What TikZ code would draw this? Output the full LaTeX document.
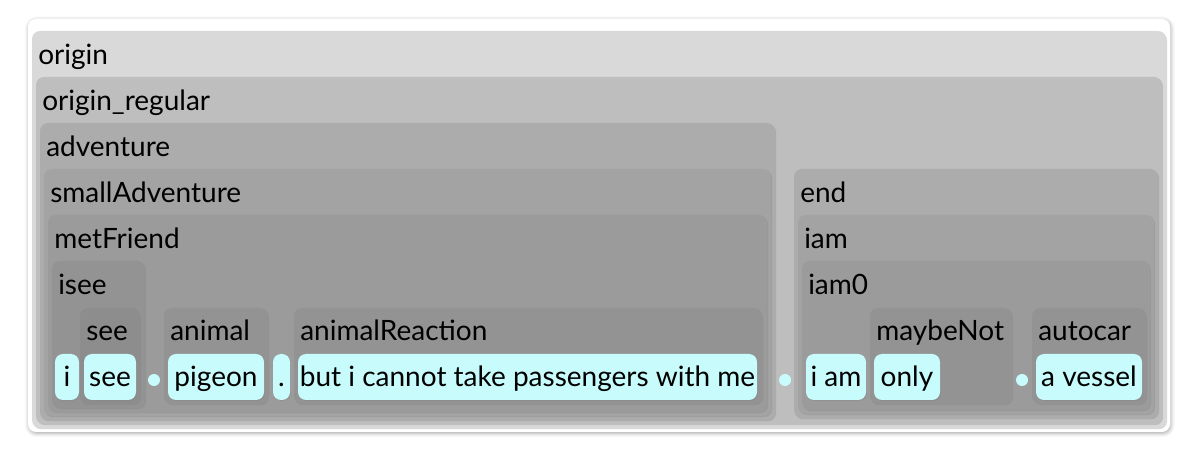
\documentclass[tikz,border=0pt]{standalone}
\usepackage{fontspec}
\setmainfont{Lato}
\usepackage{xcolor}
\usetikzlibrary{shadows,shadows.blur}
\definecolor{tokcyan}{HTML}{C8FBFB}
\definecolor{lvla}{HTML}{D9D9D9}
\definecolor{lvlb}{HTML}{BEBEBE}
\definecolor{lvlc}{HTML}{ACACAC}
\definecolor{lvld}{HTML}{A3A3A3}
\definecolor{lvle}{HTML}{9B9B9B}
\definecolor{lvlf}{HTML}{939393}
\definecolor{lvlg}{HTML}{8D8D8D}

\begin{document}
\begin{tikzpicture}[x=0.75pt,y=-0.75pt,
  grp/.style={rounded corners=6pt,
    drop shadow={shadow xshift=0.8pt,shadow yshift=-0.9pt,opacity=0.3}},
  lbl/.style={anchor=base west,inner sep=0pt,font=\fontsize{21}{25}\selectfont},
  tok/.style={anchor=base,fill=tokcyan,rounded corners=6pt,inner sep=0pt,
    minimum height=34.5pt,text height=15pt,text depth=0pt,
    font=\fontsize{21}{25}\selectfont,
    drop shadow={shadow xshift=0.6pt,shadow yshift=-0.8pt,opacity=0.3}},
  tw/.style={minimum width=#1*0.75pt},
  sep/.style={circle,fill=tokcyan,minimum size=9pt,inner sep=0pt}]
  \useasboundingbox (0,0) rectangle (1196,466);
  % card
  \fill[white,rounded corners=6pt,
    blur shadow={shadow xshift=0.6pt,shadow yshift=-1pt,shadow blur radius=3pt,shadow opacity=35}]
    (28,19) rectangle (1170,432);
  % nested groups
  \foreach \l/\t/\r/\b/\c in {32/31/1166/428/lvla, 36/77/1162/424/lvlb,
      40/123/775/420/lvlc, 44/169/771/416/lvld, 48/215/767/412/lvle,
      52/261/145/408/lvlf, 80/308/140/404/lvlg,
      164/308/268/404/lvlf, 294/308/762/404/lvlf,
      794/169/1158/418/lvlc, 798/215/1154/414/lvld, 802/261/1150/410/lvle,
      870/308/1012/404/lvlf, 1032/308/1146/404/lvlf}
    \draw[grp,draw=none,fill=\c] (\l,\t) rectangle (\r,\b);
  % group labels
  \node[lbl] (origin) at (38,65) {origin};
  \node[lbl] (originRegular) at (42,111) {origin\_regular};
  \node[lbl] (adventure) at (46,157) {adventure};
  \node[lbl] (smallAdventure) at (50,203) {smallAdventure};
  \node[lbl] (metFriend) at (54,249) {metFriend};
  \node[lbl] (isee) at (58,295) {isee};
  \node[lbl] (see) at (86,341) {see};
  \node[lbl] (animal) at (170,341) {animal};
  \node[lbl] (animalReaction) at (300,341) {animalReaction};
  \node[lbl] (end) at (800,203) {end};
  \node[lbl] (iam) at (804,249) {iam};
  \node[lbl] (iamZero) at (808,295) {iam0};
  \node[lbl] (maybeNot) at (876,341) {maybeNot};
  \node[lbl] (autocar) at (1038,341) {autocar};
  % tokens
  \node[tok,tw=24] (tI) at (67,387) {i};
  \node[tok,tw=52] (tSee) at (110,387) {see};
  \node[sep] (sepA) at (154,380) {};
  \node[tok,tw=96] (tPigeon) at (216,387) {pigeon};
  \node[tok,tw=17] (tDot) at (281.5,387) {.};
  \node[tok,tw=459] (tReaction) at (527.5,387) {but i cannot take passengers with me};
  \node[sep] (sepB) at (785,380) {};
  \node[tok,tw=60] (tIam) at (836,387) {i am};
  \node[tok,tw=66] (tOnly) at (907,387) {only};
  \node[sep] (sepC) at (1022,380) {};
  \node[tok,tw=106] (tVessel) at (1089,387) {a vessel};
\end{tikzpicture}
\end{document}
